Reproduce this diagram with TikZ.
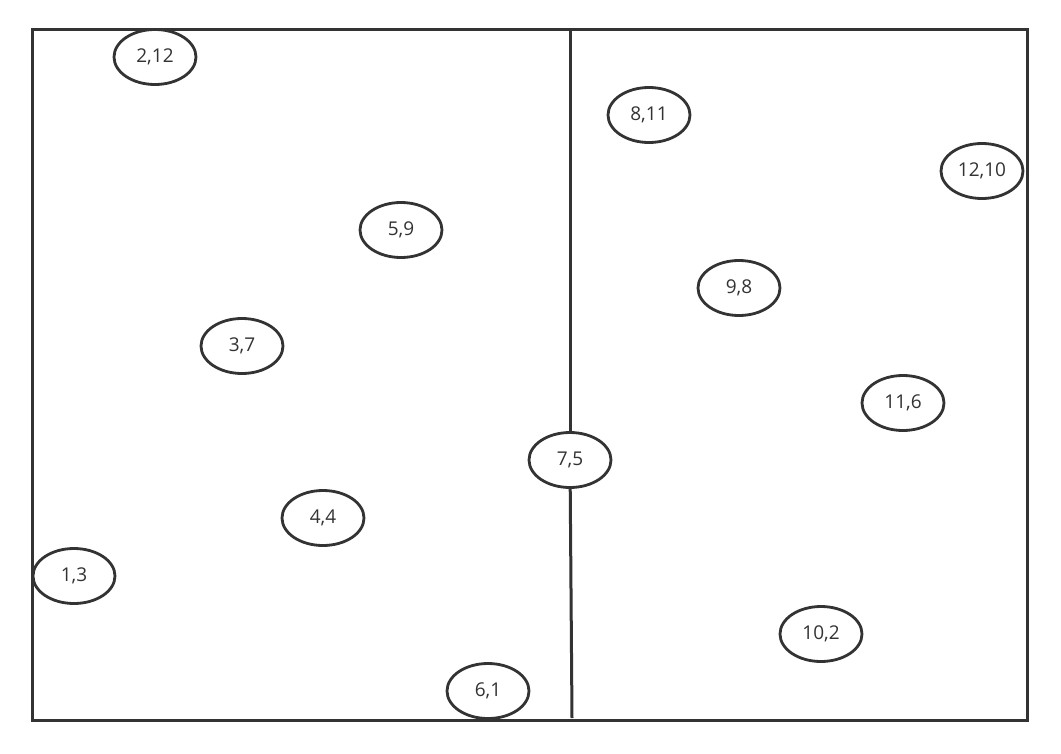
\documentclass[tikz,border=0pt]{standalone}
\usepackage{fontspec}
\setmainfont{Open Sans}
\usetikzlibrary{shapes.geometric}
\definecolor{ink}{HTML}{333333}
\begin{document}
\begin{tikzpicture}[x=1pt,y=-1pt,
  pt/.style={ellipse,draw=ink,line width=2.8pt,fill=white,minimum width=82pt,minimum height=55pt,inner sep=0pt,text=ink,font=\fontsize{19}{21}\selectfont},
  frame/.style={draw=ink,line width=3pt},
  divider/.style={draw=ink,line width=3pt}]
\useasboundingbox (0,0) rectangle (1061,753);
\draw[frame] (32,29) rectangle (1027,720);
\coordinate (top) at (570,31);
\coordinate (bot) at (572,718);
\node[pt] (p75) at (570,460) {7,5};
\draw[divider] (top) -- (p75);
\draw[divider] (p75) -- (bot);
\node[pt] (p212) at (155,57) {2,12};
\node[pt] (p811) at (649,115) {8,11};
\node[pt] (p1210) at (982,171) {12,10};
\node[pt] (p59) at (401,230) {5,9};
\node[pt] (p98) at (739,288) {9,8};
\node[pt] (p37) at (242,346) {3,7};
\node[pt] (p116) at (903,403) {11,6};
\node[pt] (p44) at (323,518) {4,4};
\node[pt] (p13) at (74,576) {1,3};
\node[pt] (p102) at (821,634) {10,2};
\node[pt] (p61) at (488,691) {6,1};
\end{tikzpicture}
\end{document}
